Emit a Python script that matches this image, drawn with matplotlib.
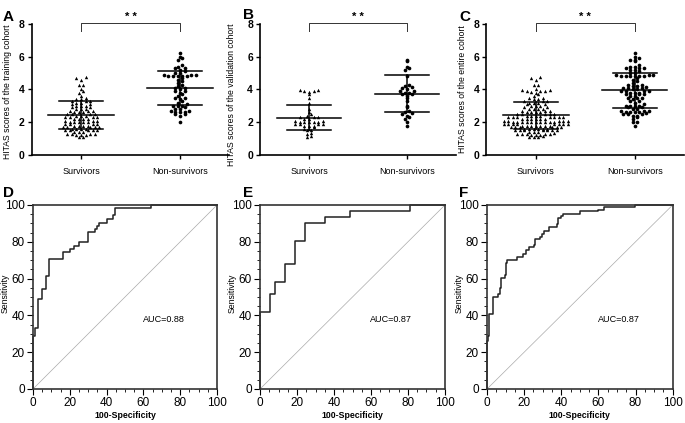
import numpy as np
from matplotlib import pyplot as plt

plt.rcParams['font.family'] = ['Liberation Sans', 'DejaVu Sans']

# HITAS scores
train_surv = [1.1, 1.1, 1.2, 1.2, 1.2, 1.3, 1.3, 1.3, 1.3, 1.4, 1.4, 1.4, 1.5, 1.5, 1.5, 1.5,
              1.5, 1.6, 1.6, 1.6, 1.6, 1.7, 1.7, 1.7, 1.7, 1.7, 1.8, 1.8, 1.8, 1.8, 1.9, 1.9,
              1.9, 1.9, 2.0, 2.0, 2.0, 2.0, 2.0, 2.1, 2.1, 2.1, 2.2, 2.2, 2.2, 2.2, 2.3, 2.3,
              2.3, 2.3, 2.4, 2.4, 2.4, 2.5, 2.5, 2.5, 2.5, 2.6, 2.6, 2.6, 2.7, 2.7, 2.7, 2.8,
              2.8, 2.8, 2.9, 2.9, 3.0, 3.0, 3.0, 3.1, 3.1, 3.2, 3.2, 3.3, 3.3, 3.3, 3.4, 3.4,
              3.5, 3.6, 3.8, 3.9, 4.0, 4.3, 4.3, 4.6, 4.7, 4.75]
train_dead = [2.0, 2.4, 2.5, 2.5, 2.6, 2.6, 2.6, 2.7, 2.7, 2.8, 2.8, 2.9, 3.0, 3.0, 3.0, 3.1,
              3.2, 3.3, 3.4, 3.5, 3.5, 3.6, 3.7, 3.8, 3.9, 3.9, 4.0, 4.1, 4.1, 4.2, 4.3, 4.4,
              4.5, 4.6, 4.7, 4.8, 4.8, 4.8, 4.8, 4.8, 4.9, 4.9, 4.9, 5.0, 5.0, 5.1, 5.2, 5.3,
              5.3, 5.4, 5.5, 5.8, 5.9, 6.0, 6.2]
valid_surv = [1.1, 1.15, 1.3, 1.35, 1.5, 1.5, 1.6, 1.6, 1.7, 1.8, 1.8, 1.8, 1.9, 1.9, 1.9,
              1.9, 2.0, 2.0, 2.0, 2.0, 2.0, 2.1, 2.1, 2.2, 2.2, 2.3, 2.3, 2.3, 2.4, 2.5,
              2.6, 2.8, 3.2, 3.5, 3.7, 3.85, 3.9, 3.9, 3.95, 3.95]
valid_dead = [1.75, 2.0, 2.2, 2.3, 2.4, 2.5, 2.55, 2.6, 2.7, 2.9, 3.0, 3.3, 3.5, 3.6, 3.7,
              3.75, 3.8, 3.8, 3.9, 3.9, 4.0, 4.1, 4.15, 4.2, 4.3, 4.8, 5.2, 5.3, 5.4, 5.75, 5.8]
# entire cohort = training + validation
entire_surv = train_surv + valid_surv
entire_dead = train_dead + valid_dead

# mean and SD bars as drawn (survivors, non-survivors)
train_mean = [2.45, 4.08]
train_sd = [0.85, 1.02]
valid_mean = [2.28, 3.75]
valid_sd = [0.77, 1.12]
entire_mean = [2.42, 3.95]
entire_sd = [0.81, 1.06]

groups = ['Survivors', 'Non-survivors']
ylabels = ['HITAS scores of the training cohort', 'HITAS scores of the validation cohort',
           'HITAS scores of the entire cohort']

# ROC step curves (100-specificity, sensitivity)
roc_d_x = [0, 0, 1.1, 1.1, 2.5, 2.5, 4.9, 4.9, 7.2, 7.2, 8.7, 8.7, 16.3, 16.3, 19.9, 19.9,
           22.3, 22.3, 24.8, 24.8, 29.9, 29.9, 33.5, 33.5, 34.6, 34.6, 35.9, 35.9, 40.2, 40.2,
           43.5, 43.5, 44.7, 44.7, 64.1, 64.1, 100]
roc_d_y = [0, 29, 29, 33.3, 33.3, 48.7, 48.7, 54.2, 54.2, 61.4, 61.4, 70.8, 70.8, 74.3, 74.3,
           75.9, 75.9, 77.9, 77.9, 79.7, 79.7, 85.2, 85.2, 86.8, 86.8, 88.6, 88.6, 90.4, 90.4,
           92.4, 92.4, 94.6, 94.6, 98.2, 98.2, 100, 100]
roc_e_x = [0, 0, 5.4, 5.4, 8.1, 8.1, 13.5, 13.5, 18.9, 18.9, 24.3, 24.3, 35.1, 35.1, 48.5,
           48.5, 81, 81, 100]
roc_e_y = [0, 42, 42, 51.6, 51.6, 58, 58, 67.8, 67.8, 80.6, 80.6, 90.3, 90.3, 93.5, 93.5,
           96.8, 96.8, 100, 100]
roc_f_x = [0, 0, 0.5, 0.5, 1.3, 1.3, 3.2, 3.2, 5.9, 5.9, 6.8, 6.8, 7.5, 7.5, 9.5, 9.5, 10.0,
           10.0, 10.5, 10.5, 16, 16, 19.4, 19.4, 21, 21, 22.4, 22.4, 25.5, 25.5, 26, 26, 28.5,
           28.5, 29.5, 29.5, 30.5, 30.5, 33.2, 33.2, 37.5, 37.5, 38, 38, 40, 40, 41, 41, 50.1,
           50.1, 59.6, 59.6, 62.8, 62.8, 79.7, 79.7, 100]
roc_f_y = [0, 26, 26, 29, 29, 40.5, 40.5, 50, 50, 51.5, 51.5, 55, 55, 60.5, 60.5, 62, 62,
           68.5, 68.5, 70, 70, 72, 72, 73.5, 73.5, 75.5, 75.5, 77, 77, 78, 78, 81.3, 81.3,
           82.5, 82.5, 84.5, 84.5, 86, 86, 88.3, 88.3, 89.5, 89.5, 93, 93, 94, 94, 95.3, 95.3,
           96.5, 96.5, 97.5, 97.5, 98.8, 98.8, 100, 100]
aucs = ['AUC=0.88', 'AUC=0.87', 'AUC=0.87']


def swarm(ax, vals, center, row=0.2, w=4.6):
    # GraphPad-like scatter: points in a row band are put side by side
    bb = ax.get_window_extent()
    x0, x1 = ax.get_xlim()
    sx = bb.width / (x1 - x0)
    vals = np.asarray(vals, float)
    bins = np.floor(vals / row + 1e-6)
    xs = np.zeros(len(vals))
    for b in np.unique(bins):
        idx = np.where(bins == b)[0]
        idx = idx[np.argsort(vals[idx], kind='stable')]
        n = len(idx)
        offs = (np.arange(n) - (n - 1) / 2) * w
        offs = offs[np.argsort(np.abs(offs), kind='stable')]
        xs[idx] = center + offs / sx
    return xs


def scatter_panel(ax, surv, dead, means, sds, ylabel, label_pos):
    ax.set_xlim(-0.5, 1.5)
    ax.set_ylim(0, 8)
    for s in ['top', 'right']:
        ax.spines[s].set_visible(False)
    for s in ['left', 'bottom']:
        ax.spines[s].set_linewidth(1.2)
    ax.set_yticks([0, 2, 4, 6, 8])
    ax.set_yticklabels(['0', '2', '4', '6', '8'], fontweight='bold', fontsize=7.5)
    ax.set_xticks([0, 1])
    ax.set_xticklabels(groups, fontsize=6.5)
    ax.tick_params(length=3, width=1, pad=2)
    ax.tick_params(axis='x', pad=6)
    ax.set_ylabel(ylabel, fontsize=6.2)
    ax.yaxis.set_label_coords(*label_pos)

    ax.scatter(swarm(ax, surv, 0), surv, marker='^', s=6, color='black', linewidths=0,
               zorder=3)
    ax.scatter(swarm(ax, dead, 1), dead, marker='o', s=7, color='black', linewidths=0,
               zorder=3)
    for c, (m, sd) in enumerate(zip(means, sds)):
        ax.plot([c - 0.33, c + 0.33], [m, m], color='black', lw=1.1, zorder=4)
        ax.plot([c - 0.22, c + 0.22], [m + sd, m + sd], color='black', lw=1.1, zorder=4)
        ax.plot([c - 0.22, c + 0.22], [m - sd, m - sd], color='black', lw=1.1, zorder=4)
        ax.plot([c, c], [m - sd, m + sd], color='black', lw=1.1, zorder=4)

    ax.plot([0, 0, 1, 1], [7.55, 8.05, 8.05, 7.55], color='#333333', lw=0.7, clip_on=False)
    ax.text(0.5, 8.4, '* *', ha='center', va='center', fontsize=8, fontweight='bold')


def roc_panel(ax, xs, ys, auc):
    ax.set_xlim(0, 100)
    ax.set_ylim(0, 100)
    for s in ax.spines.values():
        s.set_linewidth(1.2)
        s.set_color('#333333')
    ax.plot([0, 100], [0, 100], color='#aaaaaa', lw=0.5)
    ax.plot(xs, ys, color='#222222', lw=1.1, clip_on=False)
    ax.set_xticks(range(0, 101, 20))
    ax.set_yticks(range(0, 101, 20))
    ax.set_xticks(range(0, 101, 5), minor=True)
    ax.set_yticks(range(0, 101, 5), minor=True)
    ax.tick_params(which='major', length=4, width=0.8, labelsize=8.5, pad=2)
    ax.tick_params(which='minor', length=2.5, width=0.6)
    ax.set_xlabel('100-Specificity', fontsize=6.3, fontweight='bold', labelpad=1)
    ax.set_ylabel('Sensitivity', fontsize=6.3)
    ax.yaxis.set_label_coords(-0.125, 0.52)
    ax.text(71, 38, auc, ha='center', va='center', fontsize=6.5)


fig = plt.figure(figsize=(6.85, 4.23), dpi=100)

top = [[0.046, 0.6336, 0.289, 0.3097],
       [0.3796, 0.6336, 0.286, 0.3097],
       [0.710, 0.6336, 0.289, 0.3097]]
bottom = [[0.0482, 0.0804, 0.2686, 0.435],
          [0.3796, 0.0804, 0.270, 0.435],
          [0.711, 0.0804, 0.271, 0.435]]
label_pos = [(-0.098, 0.48), (-0.125, 0.46), (-0.096, 0.5)]
letter_x = [3, 243, 459]
letter_base_top = [21, 19, 21]

surv_sets = [train_surv, valid_surv, entire_surv]
dead_sets = [train_dead, valid_dead, entire_dead]
mean_sets = [train_mean, valid_mean, entire_mean]
sd_sets = [train_sd, valid_sd, entire_sd]
for i, letter in enumerate('ABC'):
    ax = fig.add_axes(top[i])
    scatter_panel(ax, surv_sets[i], dead_sets[i], mean_sets[i], sd_sets[i], ylabels[i],
                  label_pos[i])
    fig.text(letter_x[i] / 685, 1 - letter_base_top[i] / 423, letter, fontsize=11,
             fontweight='bold', ha='left', va='baseline')

rocs = [(roc_d_x, roc_d_y), (roc_e_x, roc_e_y), (roc_f_x, roc_f_y)]
for i, letter in enumerate('DEF'):
    ax = fig.add_axes(bottom[i])
    roc_panel(ax, rocs[i][0], rocs[i][1], aucs[i])
    fig.text(letter_x[i] / 685, 1 - 197 / 423, letter, fontsize=11, fontweight='bold',
             ha='left', va='baseline')

fig.savefig('out.png', dpi=100)
